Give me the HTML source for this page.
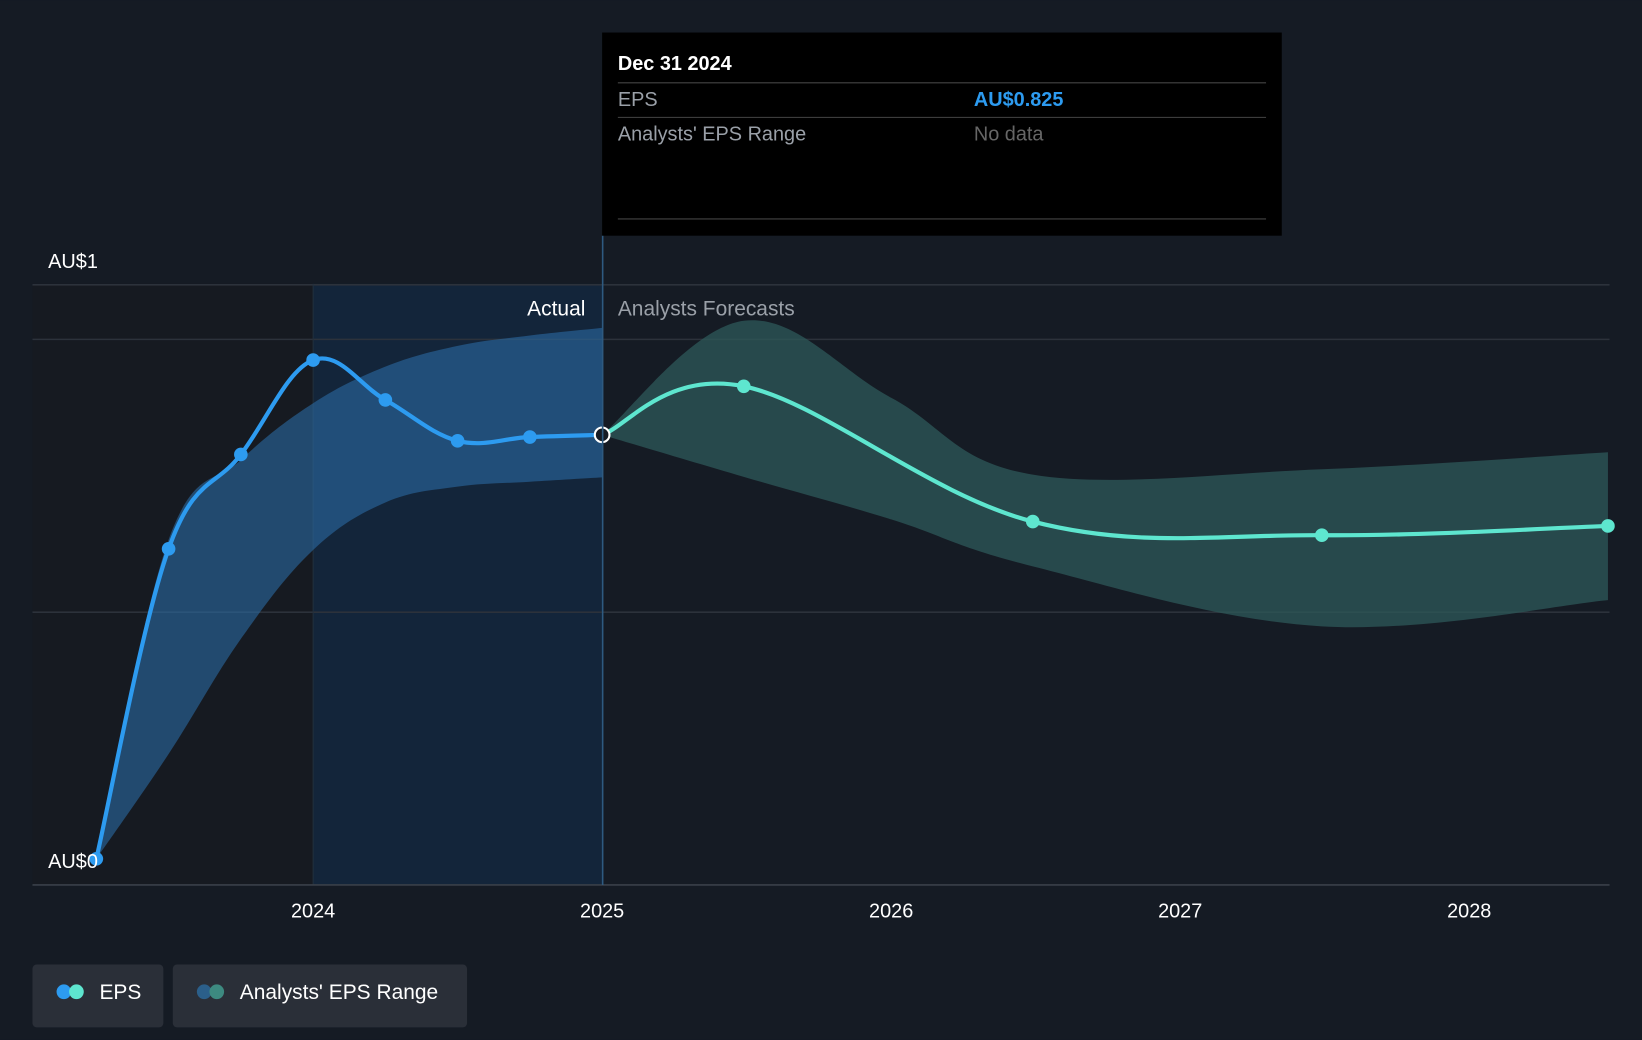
<!DOCTYPE html>
<html><head><meta charset="utf-8"><style>
html,body{margin:0;padding:0;background:#151b24;}
svg{display:block;font-family:"Liberation Sans",Arial,sans-serif;}
</style></head><body>
<svg width="1642" height="1040" viewBox="0 0 1568 993">
<rect width="1568" height="993" fill="#151b24"/>
<rect x="31" y="271" width="268" height="574" fill="#161a21"/>
<rect x="299" y="271" width="276" height="574" fill="#13253a"/>
<g id="grid"></g>
<g id="bands"></g>
<g id="lines"></g>
<g id="axis"></g>
<text x="46" y="256" fill="#fff" font-size="19">AU$1</text>
<text x="46" y="829" fill="#fff" font-size="19">AU$0</text>
<text x="559" y="301" fill="#fff" font-size="20" text-anchor="end">Actual</text>
<text x="590" y="301" fill="#9aa0a8" font-size="20">Analysts Forecasts</text>
<line x1="575.5" y1="225" x2="575.5" y2="845" stroke="#2e5a80" stroke-width="1.5"/>
<g>
<rect x="575" y="31" width="649" height="194" fill="#000"/>
<text x="590" y="67" fill="#fff" font-size="19" font-weight="bold">Dec 31 2024</text>
<line x1="590" y1="79" x2="1209" y2="79" stroke="#444"/>
<text x="590" y="101" fill="#9aa0a8" font-size="19">EPS</text>
<text x="930" y="101" fill="#2d9bf0" font-size="19" font-weight="bold">AU$0.825</text>
<line x1="590" y1="112" x2="1209" y2="112" stroke="#444"/>
<text x="590" y="134" fill="#9aa0a8" font-size="19">Analysts' EPS Range</text>
<text x="930" y="134" fill="#666" font-size="19">No data</text>
<line x1="590" y1="209" x2="1209" y2="209" stroke="#444"/>
</g>
<g>
<rect x="31" y="921" width="125" height="60" rx="4" fill="#2a2f38"/>
<circle cx="61" cy="947" r="7" fill="#2d9bf0"/><circle cx="73" cy="947" r="7" fill="#5ee6cf"/>
<text x="95" y="954" fill="#fff" font-size="20">EPS</text>
</g>
<g>
<rect x="165" y="921" width="281" height="60" rx="4" fill="#2a2f38"/>
<circle cx="195" cy="947" r="7" fill="#2b5f8a"/><circle cx="207" cy="947" r="7" fill="#3d8a80"/>
<text x="229" y="954" fill="#fff" font-size="20">Analysts' EPS Range</text>
</g>
</svg>
<script>
const actualDates=[2023.25,2023.5,2023.75,2024.0,2024.25,2024.5,2024.75,2025.0];
const actualEps=[0.048,0.616,0.789,0.962,0.889,0.814,0.821,0.825];
const actualUpper=[0.048,0.633,0.779,0.883,0.950,0.988,1.007,1.021];
const actualLower=[0.048,0.240,0.451,0.614,0.701,0.730,0.739,0.747];
const fcDates=[2025.0,2025.49,2026.49,2027.49,2028.48];
const fcEps=[0.825,0.914,0.666,0.641,0.658];
const bandDates=[2025.0,2025.49,2026.0,2026.49,2027.49,2028.48];
const fcUpper=[0.825,1.034,0.893,0.752,0.762,0.793];
const fcLower=[0.825,0.748,0.670,0.584,0.474,0.522];
const xTicks=[2024,2025,2026,2027,2028];
const gridVals=[1.1,1.0,0.5];
const NS='http://www.w3.org/2000/svg';
const X=d=>299+(d-2024)*276;
const Y=v=>845-v*521;
function mk(tag,attrs,parent){const e=document.createElementNS(NS,tag);for(const k in attrs)e.setAttribute(k,attrs[k]);document.getElementById(parent).appendChild(e);return e;}
function curve(xs,ys){
 const p=xs.map((x,i)=>[X(x),Y(ys[i])]);let d='M'+p[0][0]+','+p[0][1];
 for(let i=0;i<p.length-1;i++){const p0=p[Math.max(0,i-1)],p1=p[i],p2=p[i+1],p3=p[Math.min(p.length-1,i+2)];
  const t=0.18;const c1=[p1[0]+(p2[0]-p0[0])*t,p1[1]+(p2[1]-p0[1])*t];const c2=[p2[0]-(p3[0]-p1[0])*t,p2[1]-(p3[1]-p1[1])*t];
  d+=` C${c1[0]},${c1[1]} ${c2[0]},${c2[1]} ${p2[0]},${p2[1]}`;}
 return d;}
function band(xs,up,lo){const a=curve(xs,up);const rx=[...xs].reverse(),rl=[...lo].reverse();const b=curve(rx,rl).replace('M','L');return a+b+'Z';}
gridVals.forEach(v=>{const l=mk('line',{x1:31,x2:1537,y1:Y(v),y2:Y(v),stroke:'#2c323b','stroke-width':1.5},'grid');

});
const ax=mk('line',{x1:31,x2:1537,y1:845,y2:845,stroke:'#3a4049','stroke-width':1.5},'axis');


xTicks.forEach(t=>{
const tx=mk('text',{x:X(t),y:876,fill:'#fff','font-size':19,'text-anchor':'middle'},'axis');tx.textContent=t;

});
const g24=mk('line',{x1:X(2024),x2:X(2024),y1:271,y2:845,stroke:'#23303c','stroke-width':1},'grid');


const b1=mk('path',{d:band(actualDates,actualUpper,actualLower),fill:'#2b6aa3','fill-opacity':0.6},'bands');


const b2=mk('path',{d:band(bandDates,fcUpper,fcLower),fill:'#2e5a5a','fill-opacity':0.75},'bands');


const l1=mk('path',{d:curve(actualDates,actualEps),fill:'none',stroke:'#2d9bf0','stroke-width':4},'lines');


const l2=mk('path',{d:curve(fcDates,fcEps),fill:'none',stroke:'#5ee6cf','stroke-width':4},'lines');


actualDates.forEach((d,i)=>{const last=i===actualDates.length-1;
const c=mk('circle',{cx:X(d),cy:Y(actualEps[i]),r:last?7:6.5,fill:last?'#151b24':'#2d9bf0',stroke:last?'#fff':'none','stroke-width':2},'lines');

});
fcDates.slice(1).forEach((d,i)=>{const c=mk('circle',{cx:X(d),cy:Y(fcEps[i+1]),r:6.5,fill:'#5ee6cf'},'lines');

});
</script>
</body></html>
